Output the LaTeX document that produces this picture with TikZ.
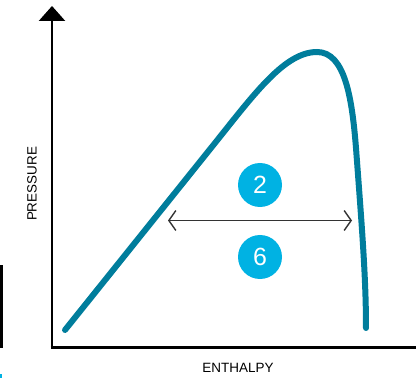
\documentclass[tikz,border=0pt]{standalone}
\usepackage{fontspec}
\setmainfont{Liberation Sans}
\usetikzlibrary{arrows.meta}

\definecolor{curveteal}{HTML}{007D9C}
\definecolor{badgecyan}{HTML}{00B2E3}
\definecolor{arrowgray}{HTML}{333333}

\begin{document}
\begin{tikzpicture}
[
	x=1bp,
	y=1bp,
	axis/.style={line width=2.6bp,black},
	badge/.style={circle,fill=badgecyan,text=white,inner sep=0pt,minimum size=44bp,font=\fontsize{25}{25}\selectfont},
	axislabel/.style={font=\fontsize{13.5}{14}\selectfont},
	dome/.style={curveteal,line width=6bp,line cap=round}
]

	\useasboundingbox (0,0) rectangle (416,378);

	% axes
	\coordinate (origin) at (52,30.5);
	\coordinate (ytip) at (52,372);
	\coordinate (xend) at (416,30.5);
	\draw[axis,-{Triangle[width=26bp,length=15bp]}] (origin) -- (ytip);
	\draw[axis] ([xshift=-1.3bp]origin) -- (xend);

	\node[axislabel,rotate=90] (pressure) at (32,194) {PRESSURE};
	\node[axislabel] (enthalpy) at (238,10) {ENTHALPY};

	% saturation dome
	\draw[dome] (65,48) -- (215,235)
	  .. controls (255,285) and (285,326) .. (317,326)
	  .. controls (345,326) and (352,280) .. (356,230)
	  .. controls (362,150) and (366,100) .. (366,50);

	% width arrow
	\coordinate (left) at (168,157.5);
	\coordinate (right) at (352,157.5);
	\draw[arrowgray,line width=1.4bp,{Straight Barb[length=7bp,width=20bp]}-{Straight Barb[length=7bp,width=20bp]}] (left) -- (right);

	\node[badge] (two) at (260,193) {2};
	\node[badge] (six) at (260,121) {6};

	% cropped edges
	\fill[black] (0,30) rectangle (3.3,113);
	\fill[badgecyan] (0,0) rectangle (2,4);

\end{tikzpicture}
\end{document}
